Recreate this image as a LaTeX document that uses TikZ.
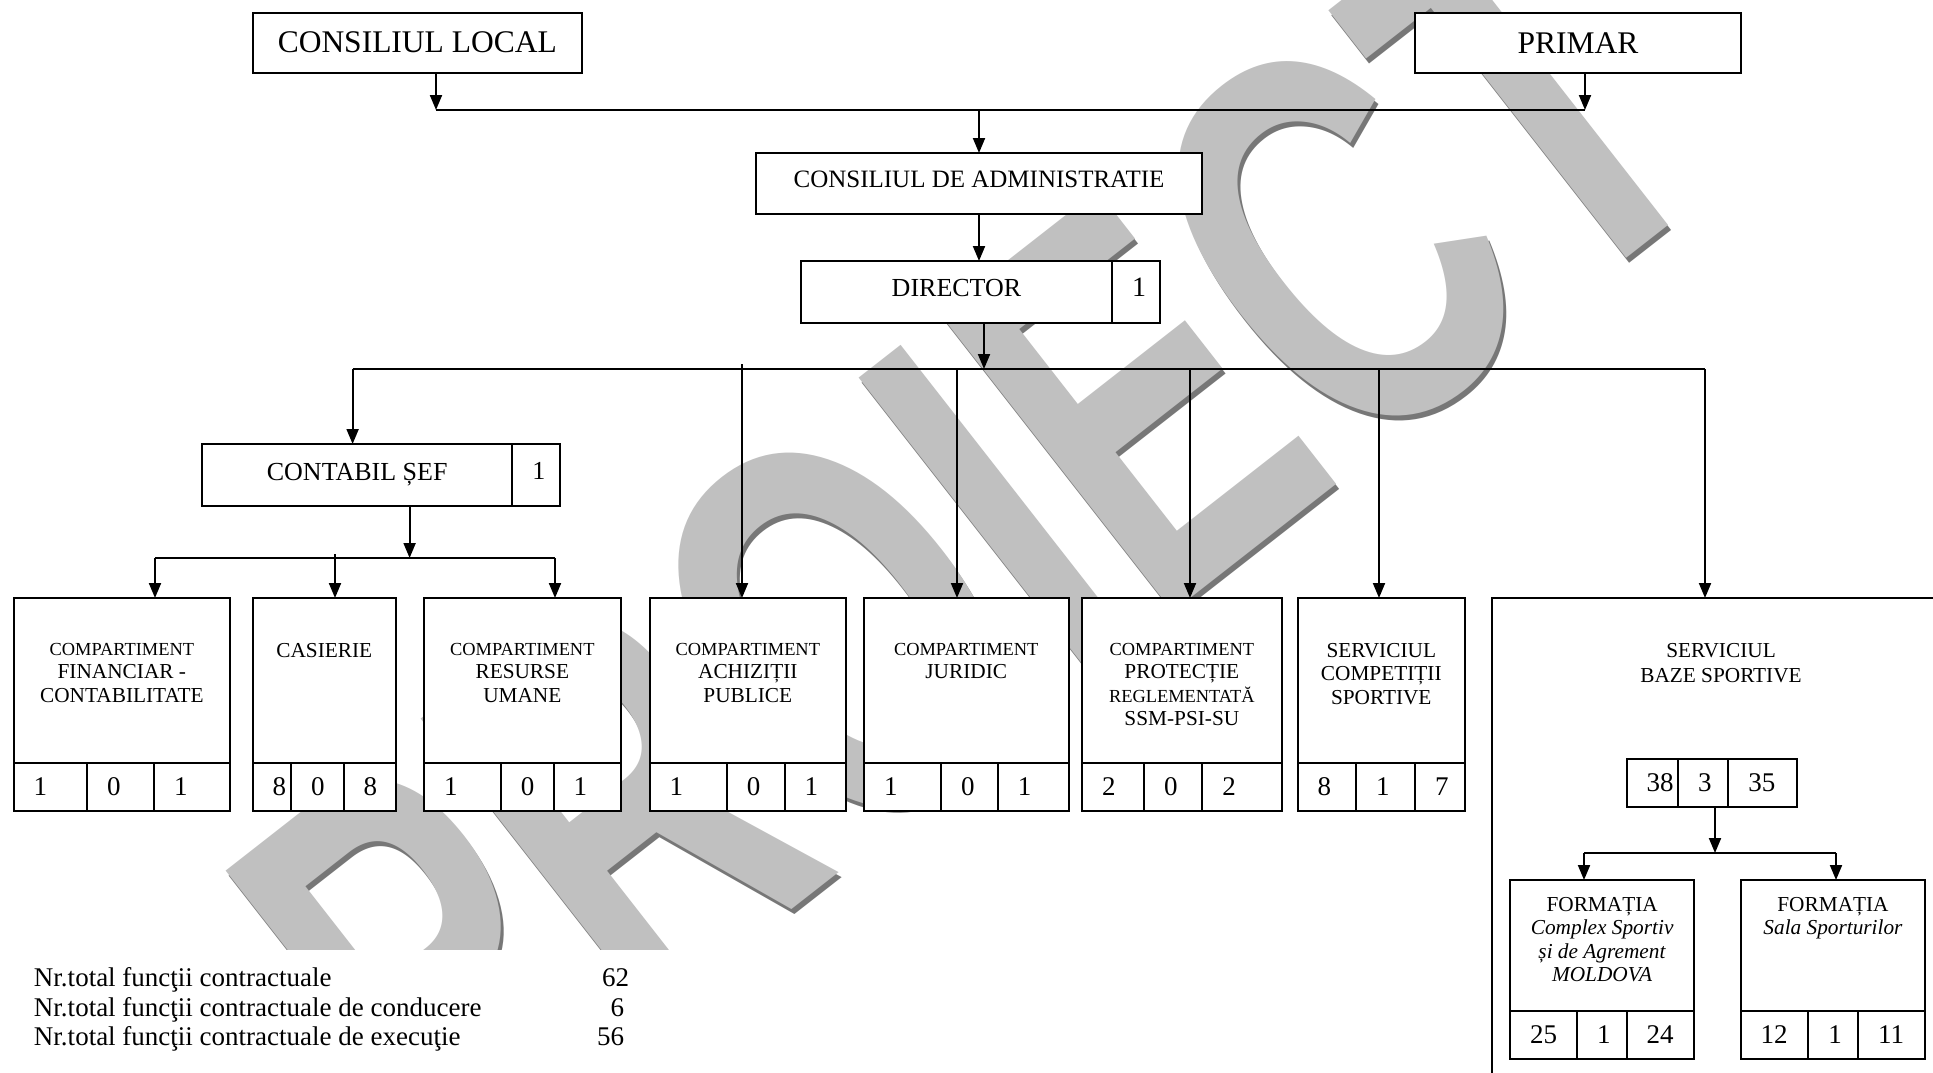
\documentclass[tikz,border=0pt]{standalone}
\usepackage{fontspec}
\setmainfont{Liberation Serif}
\newfontfamily\wmfont{Liberation Sans}
\usetikzlibrary{arrows.meta, calc}

\definecolor{wmgray}{HTML}{C0C0C0}
\definecolor{wmshade}{HTML}{777777}

\newcommand{\toprow}{598}
\newcommand{\titleh}{165}
\newcommand{\titley}{44}
\newcommand{\sm}[1]{{\fontsize{18.4}{23.5}\selectfont #1}}

\tikzset{
  box/.style={draw, fill=white, line width=2pt, outer sep=0pt, inner sep=0pt, anchor=north west},
  numcell/.style={box, minimum height=48},
  titletext/.style={anchor=north, align=center, inner sep=0pt, yshift={-\titley*1pt},
    font=\fontsize{21.3}{23.5}\selectfont},
  numtext/.style={anchor=west, inner sep=0pt, xshift=19pt, font=\fontsize{27}{27}\selectfont},
  bus/.style={line width=1.8pt},
  sumtext/.style={inner sep=0pt, font=\fontsize{27}{27}\selectfont},
  wm/.style={inner sep=0pt, transform shape, font=\wmfont\bfseries\fontsize{550}{550}\selectfont},
  wmframe/.style={rotate=38, xscale=0.673}
}

% box with title on top and a row of three numbers
\newcommand{\dept}[9]{%
  \node[box, minimum width={#3+#4+#5}, minimum height=\titleh,
        label={[titletext]north:#6}] (#1) at (#2,\toprow) {};
  \node[numcell, minimum width=#3, label={[numtext]west:#7}] (#1a) at (#1.south west) {};
  \node[numcell, minimum width=#4, label={[numtext]west:#8}] (#1b) at (#1a.north east) {};
  \node[numcell, minimum width=#5, label={[numtext]west:#9}] (#1c) at (#1b.north east) {};
}

\begin{document}
\begin{tikzpicture}[x=1pt, y=-1pt, line width=2pt,
  >={Triangle[length=15pt,width=12pt]}]
  \useasboundingbox (0,0) rectangle (1933,1073);
  \clip (0,0) rectangle (1933,1073);

  % watermark
  \begin{scope}
    \clip (0,0) rectangle (1933,949);
    \begin{scope}[shift={(974.6,534.3)}, wmframe]
      \node[wm, text=wmshade] (wmshadow) at (0,0) {PROIECT};
    \end{scope}
    \begin{scope}[shift={(971.6,529.3)}, wmframe]
      \node[wm, text=wmgray] (wmark) at (0,0) {PROIECT};
    \end{scope}
  \end{scope}

  \node[box, minimum width=328.6, minimum height=60, font=\fontsize{31.5}{31.5}\selectfont]
    (cl) at (253,12.7) {CONSILIUL LOCAL};
  \node[box, minimum width=326, minimum height=60, font=\fontsize{31.5}{31.5}\selectfont]
    (primar) at (1415,12.7) {PRIMAR};
  \node[box, minimum width=446, minimum height=61, text depth=8pt, font=\fontsize{25}{25}\selectfont]
    (cda) at (756,153) {CONSILIUL DE ADMINISTRATIE};
  \node[box, minimum width=311, minimum height=62, text depth=8pt, font=\fontsize{26}{26}\selectfont]
    (dir) at (801,261) {DIRECTOR};
  \node[numcell, minimum width=48, minimum height=62,
    label={[numtext, yshift=5pt, font=\fontsize{28}{28}\selectfont]west:1}] (dirnr) at (dir.north east) {};
  \node[box, minimum width=310.4, minimum height=62, font=\fontsize{26}{26}\selectfont]
    (cs) at (202,444) {CONTABIL ȘEF};
  \node[numcell, minimum width=48, minimum height=62,
    label={[numtext, yshift=4pt, font=\fontsize{26}{26}\selectfont]west:1}] (csnr) at (cs.north east) {};

  \dept{fin}{13.7}{73.3}{67}{76}{\sm{COMPARTIMENT}\\FINANCIAR -\\CONTABILITATE}{1}{0}{1}
  \dept{cas}{252.5}{38.5}{52.7}{52.3}{CASIERIE}{8}{0}{8}
  \dept{ru}{424}{76.8}{52.7}{67.1}{\sm{COMPARTIMENT}\\RESURSE\\UMANE}{1}{0}{1}
  \dept{achiz}{649.6}{77.2}{57.8}{61.4}{\sm{COMPARTIMENT}\\ACHIZIȚII\\PUBLICE}{1}{0}{1}
  \dept{jur}{864}{77}{56.8}{70.7}{\sm{COMPARTIMENT}\\JURIDIC}{1}{0}{1}
  \dept{prot}{1082}{62}{58.4}{79.3}{\sm{COMPARTIMENT}\\PROTECȚIE\\\sm{REGLEMENTATĂ}\\SSM-PSI-SU}{2}{0}{2}
  \dept{comp}{1297.7}{58.3}{59}{49.8}{SERVICIUL\\COMPETIȚII\\SPORTIVE}{8}{1}{7}

  \node[box, minimum width=458, minimum height=492,
    label={[titletext, font=\fontsize{21.3}{25}\selectfont]north:SERVICIUL\\BAZE SPORTIVE}] (baze) at (1492,598) {};
  \node[numcell, minimum width=51.3, label={[numtext]west:38}] (bz1) at (1626.7,759) {};
  \node[numcell, minimum width=50.3, label={[numtext]west:3}] (bz2) at (bz1.north east) {};
  \node[numcell, minimum width=68.4, label={[numtext]west:35}] (bz3) at (bz2.north east) {};

  \renewcommand{\toprow}{880}
  \renewcommand{\titleh}{131}
  \renewcommand{\titley}{16}
  \dept{fcs}{1510}{67}{49.7}{67.6}{FORMAȚIA\\\textit{Complex Sportiv}\\\textit{și de Agrement}\\\textit{MOLDOVA}}{25}{1}{24}
  \dept{fss}{1740.7}{67.6}{49.7}{67.3}{FORMAȚIA\\\textit{Sala Sporturilor}}{12}{1}{11}

  % connectors
  \coordinate (busL) at (436,110);
  \coordinate (busR) at (1585,110);
  \draw[bus] (busL) -- (busR);
  \draw[->] (cl.south -| busL) -- (busL);
  \draw[->] (primar.south -| busR) -- (busR);
  \draw[->] (cda.north |- busL) -- (cda.north);
  \draw[->] (cda.south) -- (cda.south |- dir.north);

  \coordinate (dirbus) at (984,369);
  \coordinate (busA) at (352.6,369);
  \coordinate (busZ) at (1705,369);
  \coordinate (jA) at (742,364);
  \coordinate (jJ) at (957,369);
  \coordinate (jP) at (1190,369);
  \coordinate (jC) at (1379,369);
  \draw[bus] (busA) -- (busZ);
  \draw[->] (dir.south -| dirbus) -- (dirbus);
  \draw[->] (busA) -- (busA |- cs.north);
  \draw[->] (jA) -- (jA |- achiz.north);
  \draw[->] (jJ) -- (jJ |- jur.north);
  \draw[->] (jP) -- (jP |- prot.north);
  \draw[->] (jC) -- (jC |- comp.north);
  \draw[->] (busZ) -- (busZ |- baze.north);

  \coordinate (csbus) at (409.6,558);
  \coordinate (csL) at (155,558);
  \coordinate (csM) at (335,554);
  \coordinate (csR) at (555,558);
  \draw (csL) -- (csR);
  \draw[->] (cs.south -| csbus) -- (csbus);
  \draw[->] (csL) -- (csL |- fin.north);
  \draw[->] (csM) -- (csM |- cas.north);
  \draw[->] (csR) -- (csR |- ru.north);

  \coordinate (bzbus) at (1715,853);
  \coordinate (bzL) at (1584,853);
  \coordinate (bzR) at (1836,853);
  \draw (bzL) -- (bzR);
  \draw[->] (bz2.south -| bzbus) -- (bzbus);
  \draw[->] (bzL) -- (bzL |- fcs.north);
  \draw[->] (bzR) -- (bzR |- fss.north);

  % totals
  \node[sumtext, anchor=base west] (tot1) at (33,986.7) {Nr.total funcţii contractuale};
  \node[sumtext, anchor=base west] (tot2) at (33,1016.7) {Nr.total funcţii contractuale de conducere};
  \node[sumtext, anchor=base west] (tot3) at (33,1045) {Nr.total funcţii contractuale de execuţie};
  \node[sumtext, anchor=base east] (val1) at (630,986.7) {62};
  \node[sumtext, anchor=base east] (val2) at (625,1016.7) {6};
  \node[sumtext, anchor=base east] (val3) at (625,1045) {56};
\end{tikzpicture}
\end{document}
